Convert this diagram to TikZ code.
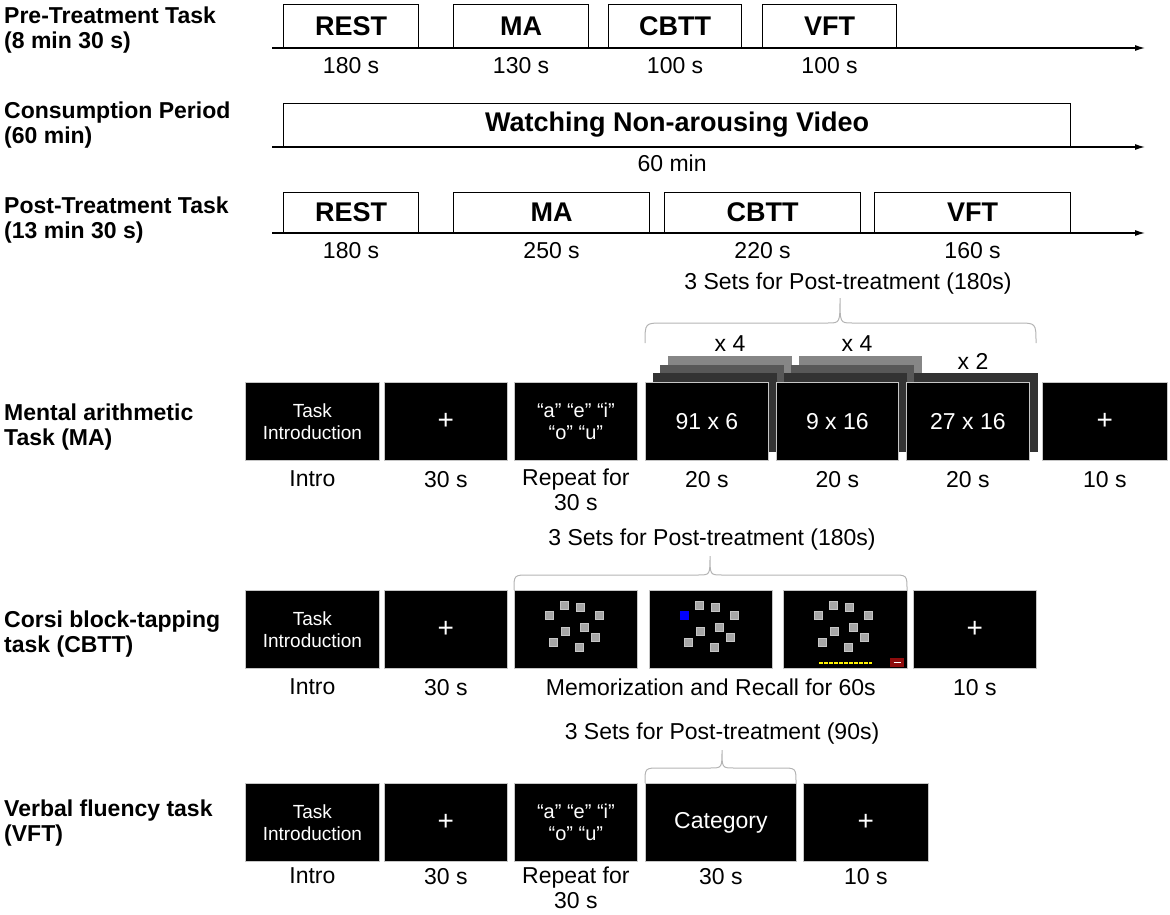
\documentclass[tikz,border=0pt]{standalone}
\usepackage{fontspec}
\setmainfont{Liberation Sans}
\usetikzlibrary{positioning,arrows.meta}
\pgfdeclarelayer{back}
\pgfsetlayers{back,main}
\definecolor{stackA}{HTML}{333333}
\definecolor{stackB}{HTML}{585858}
\definecolor{stackC}{HTML}{868686}
\definecolor{braceGray}{HTML}{B4B4B4}
\definecolor{btnRed}{HTML}{8E0C0C}
\tikzset{
  phase/.style={ % block on a session timeline
    draw, line width=1.2pt, rectangle, anchor=south west,
    minimum height=43pt, inner sep=0pt,
    font=\fontsize{27}{30}\selectfont\bfseries
  },
  timeaxis/.style={-{Latex[length=10pt,width=6pt]}, line width=1.2pt},
  rowlabel/.style={ % bold title at the left of a row
    anchor=north west, inner sep=0pt, align=left,
    font=\fontsize{23}{25}\selectfont\bfseries
  },
  dur/.style={inner sep=0pt, align=center, font=\fontsize{23}{25}\selectfont},
  note/.style={inner sep=0pt, font=\fontsize{23}{26}\selectfont},
  screen/.style={ % image of a black task screen
    rectangle, anchor=north west, fill=black, draw=gray!45, line width=0.8pt,
    minimum height=78pt, inner sep=0pt, text=white, align=center,
    font=\fontsize{19}{22}\selectfont
  },
  vowels/.style={font=\fontsize{20}{22}\selectfont},
  big/.style={font=\fontsize{23}{26}\selectfont},
  crossfix/.style={font=\fontsize{28}{28}\selectfont},
  setbrace/.style={draw=braceGray, line width=1pt},
  block/.style={fill=gray!70, draw=gray!45, line width=0.6pt}
}

\begin{document}
\begin{tikzpicture}[x=1pt, y=-1pt]
  \useasboundingbox (0,0) rectangle (1170,915);

  % pre-treatment
  \node[rowlabel] (preLbl) at (4,7) {Pre-Treatment Task\\(8 min 30 s)};
  \node[phase, minimum width=135pt] (preRest) at (283,48) {REST};
  \node[phase, minimum width=135pt] (preMA) at (453,48) {MA};
  \node[phase, minimum width=133pt] (preCBTT) at (608,48) {CBTT};
  \node[phase, minimum width=134pt] (preVFT) at (762,48) {VFT};
  \draw[timeaxis] (272,48) -- (1145,48);
  \node[dur, below=9pt of preRest] (preRestT) {180 s};
  \node[dur, below=9pt of preMA] (preMAT) {130 s};
  \node[dur, below=9pt of preCBTT] (preCBTTT) {100 s};
  \node[dur, below=9pt of preVFT] (preVFTT) {100 s};

  % consumption
  \node[rowlabel] (conLbl) at (4,102) {Consumption Period\\(60 min)};
  \node[phase, minimum width=787pt] (conVideo) at (283,147) {Watching Non-arousing Video};
  \draw[timeaxis] (272,147) -- (1145,147);
  \node[dur, below=8pt of conVideo, xshift=-5pt] (conVideoT) {60 min};

  % post-treatment
  \node[rowlabel] (postLbl) at (4,197) {Post-Treatment Task\\(13 min 30 s)};
  \node[phase, minimum width=135pt, minimum height=40pt] (postRest) at (283,233) {REST};
  \node[phase, minimum width=196pt, minimum height=40pt] (postMA) at (453,233) {MA};
  \node[phase, minimum width=196pt, minimum height=40pt] (postCBTT) at (664,233) {CBTT};
  \node[phase, minimum width=196pt, minimum height=40pt] (postVFT) at (874,233) {VFT};
  \draw[timeaxis] (272,233) -- (1145,233);
  \node[dur, below=9pt of postRest] (postRestT) {180 s};
  \node[dur, below=9pt of postMA] (postMAT) {250 s};
  \node[dur, below=9pt of postCBTT] (postCBTTT) {220 s};
  \node[dur, below=9pt of postVFT] (postVFTT) {160 s};

  % mental arithmetic
  \node[rowlabel] (maLbl) at (4,404) {Mental arithmetic\\Task (MA)};
  \node[screen, minimum width=134pt] (maS1) at (245,382) {Task\\Introduction};
  \node[screen, minimum width=123pt, crossfix] (maS2) at (384,382) {+};
  \node[screen, minimum width=123pt, vowels] (maS3) at (514,382) {“a” “e” “i”\\“o” “u”};
  \node[screen, minimum width=123pt, big] (maS4) at (645,382) {91 x 6};
  \node[screen, minimum width=122pt, big] (maS5) at (776,382) {9 x 16};
  \node[screen, minimum width=123pt, big] (maS6) at (906,382) {27 x 16};
  \node[screen, minimum width=125pt, crossfix] (maS7) at (1042,382) {+};
  \begin{pgfonlayer}{back}
    \foreach \s in {maS4,maS5}
      \foreach \k/\c in {3/stackC,2/stackB,1/stackA}
        \fill[\c] ([xshift=\k*7.7pt, yshift=\k*8.7pt]\s.north west)
          rectangle ([xshift=\k*7.7pt, yshift=\k*8.7pt]\s.south east);
    \fill[stackA] ([xshift=7.7pt, yshift=8.7pt]maS6.north west)
      rectangle ([xshift=7.7pt, yshift=8.7pt]maS6.south east);
  \end{pgfonlayer}
  \node[note] (maRep1) at (730,344) {x 4};
  \node[note] (maRep2) at (857,344) {x 4};
  \node[note] (maRep3) at (973,361) {x 2};
  \draw[setbrace] (645,343) .. controls (645,323) .. (663,323) -- (828,323)
    .. controls (840,323) .. (840,298) .. controls (840,323) .. (852,323)
    -- (1018,323) .. controls (1036,323) .. (1036,343);
  \node[note] (maSets) at (848,283.5) {3 Sets for Post-treatment (180s)};
  \node[dur, below=10pt of maS1] (maS1T) {Intro};
  \node[dur, below=10pt of maS2] (maS2T) {30 s};
  \node[dur, below=8pt of maS3] (maS3T) {Repeat for\\30 s};
  \node[dur, below=10pt of maS4] (maS4T) {20 s};
  \node[dur, below=10pt of maS5] (maS5T) {20 s};
  \node[dur, below=10pt of maS6] (maS6T) {20 s};
  \node[dur, below=10pt of maS7] (maS7T) {10 s};

  % corsi block-tapping
  \node[rowlabel] (cbLbl) at (4,611) {Corsi block-tapping\\task (CBTT)};
  \node[screen, minimum width=134pt] (cbS1) at (245,590) {Task\\Introduction};
  \node[screen, minimum width=123pt, crossfix] (cbS2) at (384,590) {+};
  \node[screen, minimum width=123pt] (cbS3) at (514,590) {};
  \node[screen, minimum width=123pt] (cbS4) at (649,590) {};
  \node[screen, minimum width=124pt] (cbS5) at (783,590) {};
  \node[screen, minimum width=123pt, crossfix] (cbS6) at (913,590) {+};
  \foreach \s in {cbS3,cbS4,cbS5} {
    \begin{scope}[shift={(\s.north west)}]
      \foreach \bx/\by in {50.7/15.3, 66.3/17.7, 35.7/25.3, 85/25.3, 70.3/37,
                           51.7/41.7, 81.3/47, 39.3/52.7, 65.3/57}
        \filldraw[block] (\bx-4,\by-4) rectangle (\bx+4,\by+4);
    \end{scope}
  }
  \begin{scope}[shift={(cbS4.north west)}]
    \fill[blue] (31,20.8) rectangle (40,29.8);
  \end{scope}
  \begin{scope}[shift={(cbS5.north west)}]
    \draw[yellow, line width=2pt, dash pattern=on 4pt off 1pt] (36,72.5) -- (89,72.5);
    \fill[btnRed] (107,68) rectangle (121,77);
    \draw[white, line width=1pt] (110.5,72.5) -- (117.5,72.5);
  \end{scope}
  \draw[setbrace] (514,590) .. controls (514,575) .. (529,575) -- (698,575)
    .. controls (710,575) .. (710,556) .. controls (710,575) .. (722,575)
    -- (892,575) .. controls (907,575) .. (907,590);
  \node[note] (cbSets) at (712,540) {3 Sets for Post-treatment (180s)};
  \node[dur, below=10pt of cbS1] (cbS1T) {Intro};
  \node[dur, below=10pt of cbS2] (cbS2T) {30 s};
  \node[dur, below=10pt of cbS4] (cbRecT) {Memorization and Recall for 60s};
  \node[dur, below=10pt of cbS6] (cbS6T) {10 s};

  % verbal fluency
  \node[rowlabel] (vfLbl) at (4,800) {Verbal fluency task\\(VFT)};
  \node[screen, minimum width=134pt] (vfS1) at (245,783) {Task\\Introduction};
  \node[screen, minimum width=123pt, crossfix] (vfS2) at (384,783) {+};
  \node[screen, minimum width=123pt, vowels] (vfS3) at (514,783) {“a” “e” “i”\\“o” “u”};
  \node[screen, minimum width=151pt, big] (vfS4) at (645,783) {Category};
  \node[screen, minimum width=125pt, crossfix] (vfS5) at (803,783) {+};
  \draw[setbrace] (645,783) .. controls (645,768) .. (660,768) -- (710,768)
    .. controls (722,768) .. (722,750) .. controls (722,768) .. (734,768)
    -- (781,768) .. controls (796,768) .. (796,783);
  \node[note] (vfSets) at (722,734) {3 Sets for Post-treatment (90s)};
  \node[dur, below=6pt of vfS1] (vfS1T) {Intro};
  \node[dur, below=6pt of vfS2] (vfS2T) {30 s};
  \node[dur, below=5pt of vfS3] (vfS3T) {Repeat for\\30 s};
  \node[dur, below=6pt of vfS4] (vfS4T) {30 s};
  \node[dur, below=6pt of vfS5] (vfS5T) {10 s};
\end{tikzpicture}
\end{document}
